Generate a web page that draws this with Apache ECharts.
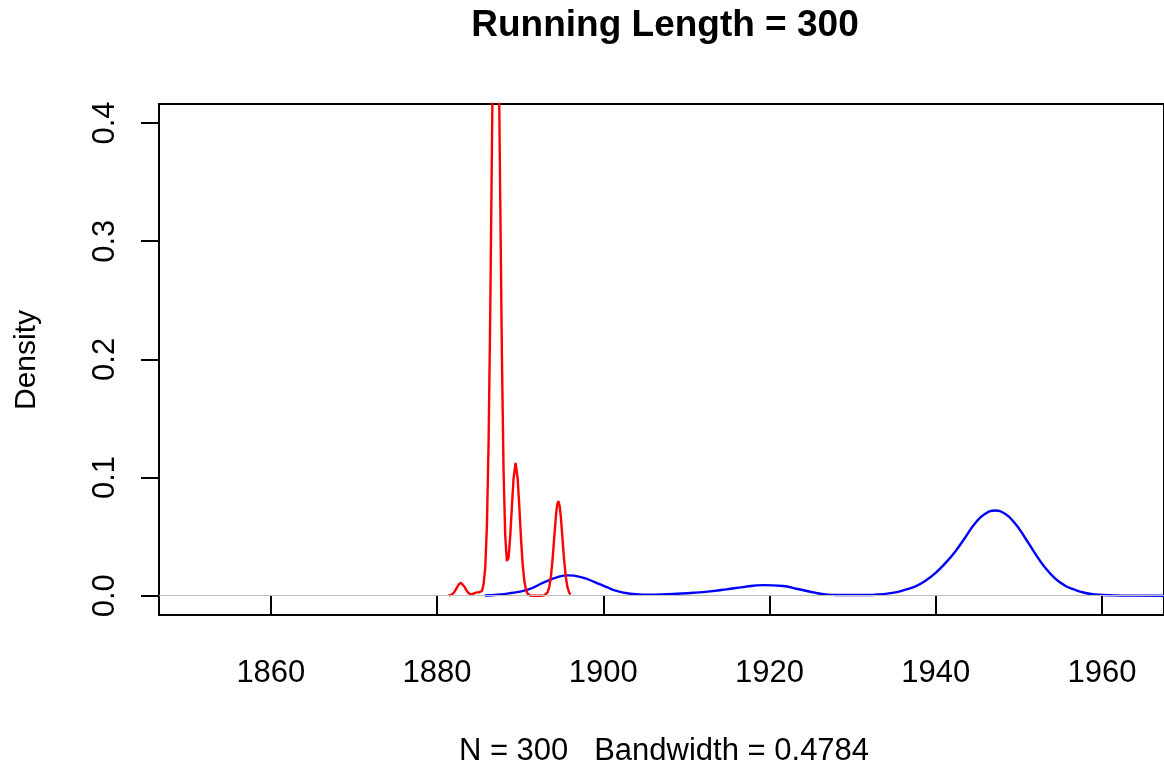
<!DOCTYPE html>
<html>
<head>
<meta charset="utf-8">
<title>Running Length = 300</title>
<script src="https://cdn.jsdelivr.net/npm/echarts@6/dist/echarts.min.js"></script>
<style>
  html, body { margin: 0; padding: 0; background: #fff; }
  #main { width: 1164px; height: 771px; }
</style>
</head>
<body>
<div id="main"></div>
<script>
// tick positions
var xTicks = [1860, 1880, 1900, 1920, 1940, 1960];
var yTicks = [0, 0.1, 0.2, 0.3, 0.4];

// red density curve
var redYears = [1881.4, 1881.7, 1882.0, 1882.2, 1882.4, 1882.6, 1882.87, 1883.1, 1883.3, 1883.5,
  1883.7, 1883.9, 1884.1, 1884.3, 1884.5, 1884.8, 1885.1, 1885.4, 1885.6, 1885.8,
  1886.0, 1886.2, 1886.4, 1886.6, 1886.8, 1886.95, 1887.07, 1887.2, 1887.4, 1887.6,
  1887.8, 1888.0, 1888.2, 1888.4, 1888.5, 1888.6, 1888.8, 1889.0, 1889.2, 1889.45,
  1889.7, 1889.9, 1890.1, 1890.3, 1890.5, 1890.7, 1890.9, 1891.2, 1891.6, 1892.0,
  1892.5, 1892.9, 1893.1, 1893.3, 1893.5, 1893.7, 1893.9, 1894.1, 1894.3, 1894.45,
  1894.59, 1894.75, 1894.9, 1895.1, 1895.3, 1895.5, 1895.7, 1895.9, 1896.05];
var redDensity = [0.0002, 0.0007, 0.0024, 0.0045, 0.0071, 0.0095, 0.011, 0.0099, 0.0076, 0.005,
  0.0028, 0.0014, 0.0008, 0.0012, 0.0022, 0.0028, 0.003, 0.004, 0.0098, 0.024,
  0.0597, 0.130, 0.240, 0.379, 0.510, 0.573, 0.590, 0.570, 0.475, 0.336,
  0.204, 0.106, 0.051, 0.0295, 0.0284, 0.032, 0.050, 0.075, 0.099, 0.1125,
  0.099, 0.075, 0.0483, 0.0265, 0.0124, 0.0049, 0.0017, 0.0002, 0, 0,
  0, 0.0003, 0.0009, 0.0029, 0.0074, 0.0164, 0.0309, 0.0495, 0.0676, 0.0769,
  0.080, 0.076, 0.066, 0.0475, 0.0292, 0.0153, 0.0068, 0.0026, 0.0011];

// blue density curve
var blueYears = [1885.74, 1887.33, 1888.92, 1890.92, 1892.92, 1894.51, 1895.79, 1897.30, 1898.90, 1900.49,
  1901.69, 1903.28, 1904.88, 1906.87, 1908.86, 1910.86, 1912.85, 1914.84, 1916.84, 1919.23,
  1921.63, 1923.22, 1925.61, 1926.81, 1928.00, 1931.59, 1933.59, 1935.18, 1936.38, 1937.57,
  1938.77, 1939.96, 1941.16, 1942.36, 1943.55, 1944.75, 1945.95, 1947.14, 1948.34, 1949.53,
  1950.73, 1951.93, 1953.12, 1954.32, 1955.52, 1956.71, 1957.91, 1959.10, 1961.49, 1964.0, 1967.5];
var blueDensity = [0.0002, 0.0008, 0.0023, 0.0051, 0.0115, 0.0158, 0.0172, 0.0158, 0.0118, 0.007,
  0.0039, 0.0017, 0.0008, 0.0011, 0.0017, 0.0025, 0.0037, 0.0054, 0.0073, 0.009,
  0.0082, 0.0059, 0.0024, 0.0011, 0.0006, 0.0006, 0.0014, 0.0028, 0.0051, 0.0079,
  0.0127, 0.0192, 0.0276, 0.0375, 0.0493, 0.0614, 0.0693, 0.0721, 0.0693, 0.0614,
  0.0493, 0.0361, 0.0242, 0.0149, 0.0087, 0.0051, 0.0025, 0.0011, 0.0003, 0.0001, 0];

var titleText = 'Running Length = 300';
var xLabelText = 'N = 300   Bandwidth = 0.4784';
var yLabelText = 'Density';

function pairs(xs, ys) {
  return xs.map(function (x, i) { return [x, ys[i]]; });
}

var font = '"Liberation Sans", Arial, Helvetica, sans-serif';
var chart = echarts.init(document.getElementById('main'), null, { renderer: 'canvas' });

var option = {
  animation: false,
  backgroundColor: '#ffffff',
  textStyle: { fontFamily: font },
  graphic: [
    {
      type: 'text',
      x: 665, y: 26,
      style: { text: titleText, font: 'bold 37px ' + font, fill: '#000', align: 'center', verticalAlign: 'middle' }
    },
    {
      type: 'text',
      x: 27, y: 360,
      rotation: Math.PI / 2,
      style: { text: yLabelText, font: '30px ' + font, fill: '#000', align: 'center', verticalAlign: 'middle' }
    },
    {
      type: 'text',
      x: 664, y: 751,
      style: { text: xLabelText, font: '31px ' + font, fill: '#000', align: 'center', verticalAlign: 'middle' }
    }
  ],
  grid: {
    left: 159, top: 104, width: 1011, height: 511,
    show: true, borderColor: '#000', borderWidth: 2, backgroundColor: 'transparent'
  },
  xAxis: {
    type: 'value',
    min: 1846.54,
    max: 1967.47,
    splitLine: { show: false },
    axisLine: { show: false },
    axisTick: { show: true, length: 20, customValues: xTicks, lineStyle: { color: '#000', width: 2 } },
    axisLabel: {
      customValues: xTicks,
      margin: 43,
      fontSize: 31,
      fontFamily: font,
      color: '#000',
      formatter: function (v) { return String(v); }
    }
  },
  yAxis: {
    type: 'value',
    min: -0.0163,
    max: 0.4161,
    splitLine: { show: false },
    axisLine: { show: false },
    axisTick: { show: true, length: 18, customValues: yTicks, lineStyle: { color: '#000', width: 2 } },
    axisLabel: {
      customValues: yTicks,
      rotate: 90,
      margin: 38,
      fontSize: 31,
      fontFamily: font,
      color: '#000',
      formatter: function (v) { return v.toFixed(1); }
    }
  },
  series: [
    {
      name: 'blue',
      type: 'line',
      data: pairs(blueYears, blueDensity),
      showSymbol: false,
      smooth: 0.5,
      lineStyle: { color: '#0000ff', width: 2.4 },
      markLine: {
        silent: true,
        symbol: 'none',
        label: { show: false },
        lineStyle: { color: '#bebebe', width: 1.2, type: 'solid' },
        data: [{ yAxis: 0 }]
      },
      z: 2
    },
    {
      name: 'red',
      type: 'line',
      data: pairs(redYears, redDensity),
      showSymbol: false,
      smooth: false,
      lineStyle: { color: '#ff0000', width: 2.4 },
      z: 3
    }
  ]
};

chart.setOption(option);
</script>
</body>
</html>
